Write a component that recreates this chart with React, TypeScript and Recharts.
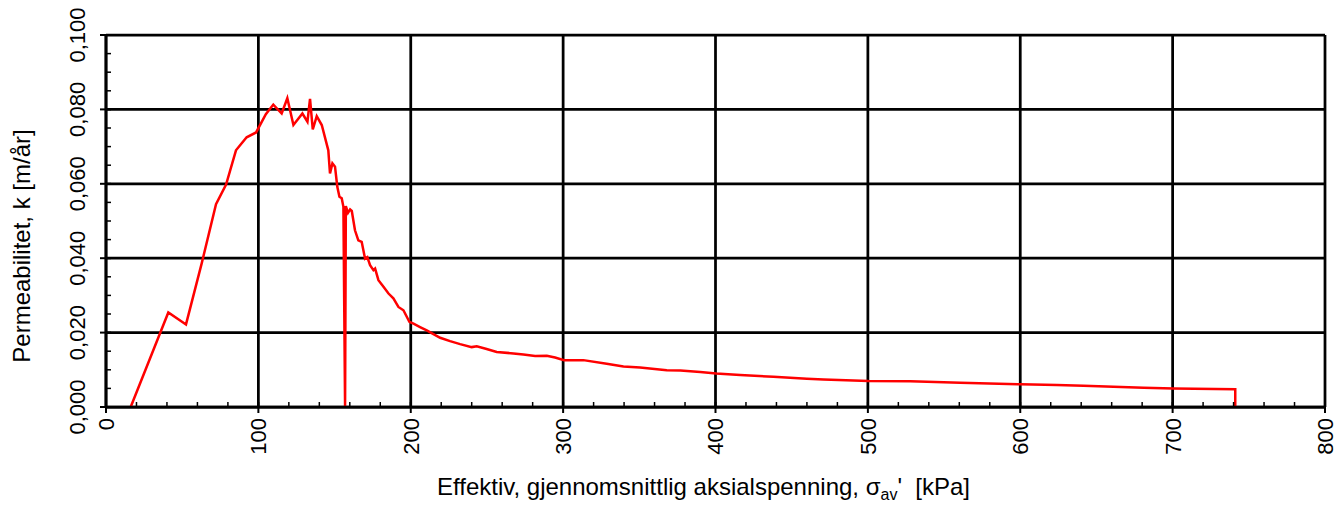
import React from 'react';
import { LineChart, Line, XAxis, YAxis, CartesianGrid, Label } from 'recharts';

// Effektiv aksialspenning [kPa] og permeabilitet [m/år], lest av kurven
const sigmaValues = [
  16.2, 40.9, 52.5, 62.8, 72.2, 78.8, 85.3, 92.3, 98.5, 104.9, 109.8, 115.3, 119.0, 123.0,
  128.9, 132.2, 133.9, 135.7, 138.3, 141.6, 145.9, 147.0, 148.6, 150.3, 151.8, 153.2, 154.7,
  155.8, 156.9, 157.4, 158.8, 160.2, 161.3, 163.4, 165.6, 167.8, 170.0, 171.5, 173.3, 175.5,
  176.6, 178.8, 182.1, 185.4, 188.6, 191.9, 195.2, 199.1, 201.8, 206.1, 210.5, 214.9, 219.3,
  225.8, 232.4, 240.0, 243.3, 249.8, 256.4, 267.4, 273.9, 281.6, 289.3, 294.7, 300.6, 313.3,
  328.6, 339.6, 350.5, 368.0, 377.0, 390.0, 400.5, 416.2, 438.0, 460.0, 470.9, 500.4, 527.8,
  560.6, 600.0, 624.0, 641.5, 680.9, 700.6, 741.1, 741.1,
];

const kValues = [
  0.0, 0.0254, 0.0222, 0.0386, 0.0545, 0.0598, 0.069, 0.0725, 0.0738, 0.0787, 0.0813, 0.0789,
  0.083, 0.0758, 0.0789, 0.0767, 0.0828, 0.0746, 0.0782, 0.0758, 0.069, 0.0628, 0.0655, 0.0646,
  0.0592, 0.0565, 0.0561, 0.0538, 0.0, 0.054, 0.0522, 0.0531, 0.0527, 0.0475, 0.0448, 0.0444,
  0.0399, 0.0403, 0.0381, 0.0368, 0.0372, 0.0341, 0.0323, 0.0305, 0.0292, 0.0269, 0.026, 0.0229,
  0.0224, 0.0215, 0.0206, 0.0196, 0.0186, 0.0177, 0.0169, 0.0161, 0.0163, 0.0156, 0.0148,
  0.0144, 0.0141, 0.0137, 0.0138, 0.0133, 0.0126, 0.0126, 0.0116, 0.0109, 0.0106, 0.0099,
  0.0098, 0.0094, 0.009, 0.0086, 0.0081, 0.0076, 0.0074, 0.007, 0.0069, 0.0065, 0.0061, 0.0059,
  0.0057, 0.0052, 0.005, 0.0048, 0.0,
];

const xMajorTicks = [0, 100, 200, 300, 400, 500, 600, 700, 800];
const xAllTicks = [
  0, 20, 40, 60, 80, 100, 120, 140, 160, 180, 200, 220, 240, 260, 280, 300, 320, 340, 360, 380,
  400, 420, 440, 460, 480, 500, 520, 540, 560, 580, 600, 620, 640, 660, 680, 700, 720, 740, 760,
  780, 800,
];
const yMajorTicks = [0, 0.02, 0.04, 0.06, 0.08, 0.1];
const yAllTicks = [
  0, 0.005, 0.01, 0.015, 0.02, 0.025, 0.03, 0.035, 0.04, 0.045, 0.05, 0.055, 0.06, 0.065, 0.07,
  0.075, 0.08, 0.085, 0.09, 0.095, 0.1,
];

const data = sigmaValues.map((sigma, i) => ({ sigma, k: kValues[i] }));

const FONT = '"Liberation Sans", Arial, sans-serif';

const isMajorX = (v: number) => xMajorTicks.includes(v);
const isMajorY = (v: number) => yMajorTicks.some((t) => Math.abs(t - v) < 1e-9);

const XTick = (props: any) => {
  const { x, y, payload } = props;
  const major = isMajorX(payload.value);
  return (
    <g>
      {major ? (
        <line x1={x} x2={x} y1={y - 5} y2={y + 6} stroke="#000" strokeWidth={2} />
      ) : (
        <line x1={x} x2={x} y1={y - 5} y2={y} stroke="#000" strokeWidth={1.5} />
      )}
      {major && (
        <text
          x={x}
          y={y + 11}
          transform={`rotate(-90, ${x}, ${y + 11})`}
          textAnchor="end"
          dy="0.36em"
          fontSize={22}
          fontFamily={FONT}
          fill="#000"
        >
          {payload.value}
        </text>
      )}
    </g>
  );
};

const YTick = (props: any) => {
  const { x, y, payload } = props;
  const major = isMajorY(payload.value);
  const lx = x - 21;
  return (
    <g>
      {major ? (
        <line x1={x - 6} x2={x + 5} y1={y} y2={y} stroke="#000" strokeWidth={2} />
      ) : (
        <line x1={x} x2={x + 5} y1={y} y2={y} stroke="#000" strokeWidth={1.5} />
      )}
      {major && (
        <text
          x={lx}
          y={y}
          transform={`rotate(-90, ${lx}, ${y})`}
          textAnchor="middle"
          fontSize={22}
          fontFamily={FONT}
          fill="#000"
        >
          {payload.value.toFixed(3).replace('.', ',')}
        </text>
      )}
    </g>
  );
};

const XAxisTitle = (props: any) => {
  const vb = props.viewBox;
  return (
    <text
      x={vb.x + vb.width / 2 - 12}
      y={vb.y + 88}
      textAnchor="middle"
      fontSize={24}
      fontFamily={FONT}
      fill="#000"
    >
      Effektiv, gjennomsnittlig aksialspenning, σ
      <tspan fontSize={16} dy={5}>av</tspan>
      <tspan dy={-5} xmlSpace="preserve">{"'  [kPa]"}</tspan>
    </text>
  );
};

const YAxisTitle = (props: any) => {
  const vb = props.viewBox;
  const cx = 30;
  const cy = vb.y + vb.height / 2 + 25;
  return (
    <text
      x={cx}
      y={cy}
      transform={`rotate(-90, ${cx}, ${cy})`}
      textAnchor="middle"
      fontSize={24}
      fontFamily={FONT}
      fill="#000"
    >
      Permeabilitet, k [m/år]
    </text>
  );
};

export default function App() {
  return (
    <div style={{ position: 'absolute', left: 0, top: 0, width: 1343, height: 507, background: '#fff' }}>
      <LineChart width={1343} height={507} data={data} margin={{ top: 35, right: 18, bottom: 0, left: 0 }}>
        <CartesianGrid
          stroke="#000"
          strokeWidth={2.75}
          verticalValues={xMajorTicks}
          horizontalValues={yMajorTicks}
        />
        <XAxis
          type="number"
          dataKey="sigma"
          domain={[0, 800]}
          ticks={xAllTicks}
          interval={0}
          height={100}
          tickSize={0}
          tickMargin={0}
          tickLine={false}
          axisLine={{ stroke: '#000', strokeWidth: 2.75 }}
          tick={<XTick />}
        >
          <Label content={<XAxisTitle />} />
        </XAxis>
        <YAxis
          type="number"
          dataKey="k"
          domain={[0, 0.1]}
          ticks={yAllTicks}
          interval={0}
          width={106}
          tickSize={0}
          tickMargin={0}
          tickLine={false}
          axisLine={{ stroke: '#000', strokeWidth: 2.75 }}
          tick={<YTick />}
        >
          <Label content={<YAxisTitle />} />
        </YAxis>
        <Line
          type="linear"
          dataKey="k"
          stroke="#ff0000"
          strokeWidth={2.5}
          dot={false}
          isAnimationActive={false}
        />
      </LineChart>
    </div>
  );
}
